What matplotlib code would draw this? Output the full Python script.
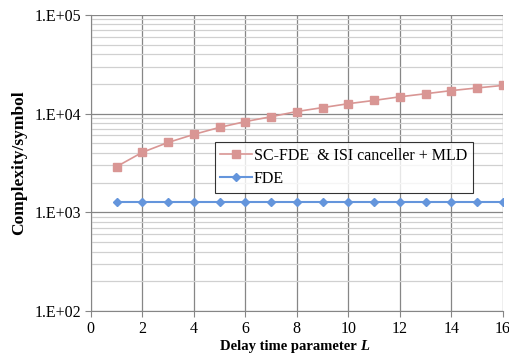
import matplotlib
matplotlib.use("Agg")
import matplotlib.pyplot as plt
import numpy as np
from matplotlib.ticker import LogLocator, FuncFormatter

plt.rcParams['font.family'] = ['Liberation Serif', 'DejaVu Serif']

delay_L = [1, 2, 3, 4, 5, 6, 7, 8, 9, 10, 11, 12, 13, 14, 15, 16]
sc_fde_mld = [2900, 4050, 5100, 6150, 7250, 8300, 9300, 10500, 11500,
              12600, 13600, 14800, 15900, 17100, 18200, 19300]
fde = [1270] * 16

fig = plt.figure(figsize=(5.1, 3.55), dpi=100)
ax = fig.add_axes([0.178, 0.124, 0.808, 0.834])

ax.plot(delay_L, sc_fde_mld, color='#d99694', marker='s', markersize=6,
        linewidth=1.2, label='SC-FDE  & ISI canceller + MLD')
ax.plot(delay_L, fde, color='#6495dc', marker='D', markersize=4,
        linewidth=1.5, label='FDE')

ax.set_yscale('log')
ax.set_ylim(100, 100000)
ax.set_xlim(0, 16)
ax.set_xticks(range(0, 17, 2))
ax.yaxis.set_major_locator(LogLocator(base=10, numticks=10))
ax.yaxis.set_minor_locator(LogLocator(base=10, subs=np.arange(2, 10), numticks=10))
ax.yaxis.set_major_formatter(FuncFormatter(lambda v, p: '1.E+%02d' % round(np.log10(v))))
ax.yaxis.set_minor_formatter(FuncFormatter(lambda v, p: ''))

ax.grid(True, which='major', axis='both', color='#868686', linewidth=0.9)
ax.grid(True, which='minor', axis='y', color='#d0d0d0', linewidth=0.9)
ax.set_axisbelow(True)

for side in ['top', 'right']:
    ax.spines[side].set_visible(False)
for side in ['left', 'bottom']:
    ax.spines[side].set_color('#868686')
ax.tick_params(axis='both', which='major', length=4, color='#868686',
               labelsize=11.5, pad=3)
ax.tick_params(axis='y', which='minor', length=0)

# x label: bold text with bold italic L
fig.text(0.706, 0.006, 'Delay time parameter ', fontsize=10.5, fontweight='bold',
         ha='right', va='bottom')
fig.text(0.706, 0.006, 'L', fontsize=10.5, fontweight='bold', style='italic',
         ha='left', va='bottom')
ax.set_ylabel('Complexity/symbol', fontsize=12.5, fontweight='bold', labelpad=5)

leg = ax.legend(loc='upper left', bbox_to_anchor=(0.301, 0.57), fontsize=11.5,
                frameon=True, fancybox=False, edgecolor='black',
                borderpad=0.35, labelspacing=0.45, handlelength=2.0,
                handletextpad=0.1, borderaxespad=0)
leg.get_frame().set_linewidth(0.8)

fig.savefig('out.png', dpi=100)
